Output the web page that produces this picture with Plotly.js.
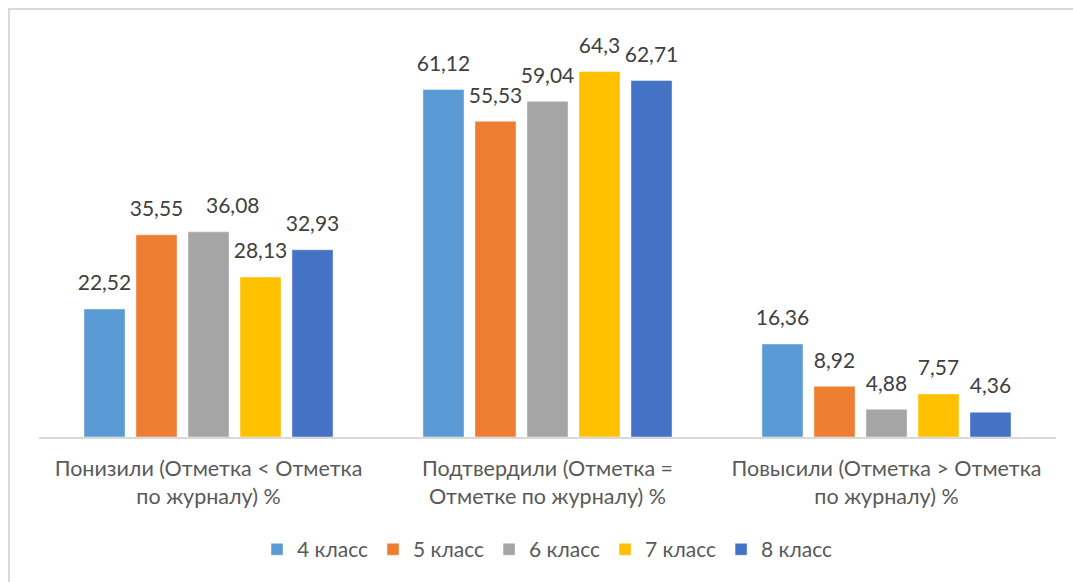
<!DOCTYPE html>
<html>
<head>
<meta charset="utf-8">
<script src="https://cdn.plot.ly/plotly-3.0.1.min.js"></script>
<style>html,body{margin:0;padding:0;background:#fff;}#chart{width:1073px;height:582px;}</style>
</head>
<body>
<div id="chart"></div>
<script>
const categories = ["Понизили (Отметка < Отметка<br>по журналу) %", "Подтвердили (Отметка =<br>Отметке по журналу) %", "Повысили (Отметка > Отметка<br>по журналу) %"];
const seriesNames = ["4 класс", "5 класс", "6 класс", "7 класс", "8 класс"];
const grade4 = [22.52, 61.12, 16.36];
const grade5 = [35.55, 55.53, 8.92];
const grade6 = [36.08, 59.04, 4.88];
const grade7 = [28.13, 64.3, 7.57];
const grade8 = [32.93, 62.71, 4.36];
const colors = ["#5B9BD5", "#ED7D31", "#A5A5A5", "#FFC000", "#4472C4"];

const allValues = [grade4, grade5, grade6, grade7, grade8];
const fmt = v => String(v).replace('.', ',');
const FONT = "Lato, 'Open Sans', sans-serif";
const LABEL_FONT = {family: FONT, size: 21, color: '#404040'};

const barTraces = allValues.map((vals, i) => ({
  type: 'bar',
  name: seriesNames[i],
  x: categories,
  y: vals,
  offsetgroup: String(i),
  marker: {color: colors[i], line: {color: 'rgba(255,255,255,0.6)', width: 0.75}},
  hoverinfo: 'x+y'
}));

// In the reference the label of 6 класс in the first group was dragged to the right;
// that one label is drawn as an annotation (6 класс is the middle bar of the group).
const isMoved = (i, j) => i === 2 && j === 0;

const labelTraces = allValues.map((vals, i) => ({
  type: 'scatter',
  mode: 'markers+text',
  name: seriesNames[i] + ' label',
  showlegend: false,
  x: categories,
  y: vals,
  offsetgroup: String(i),
  text: vals.map((v, j) => isMoved(i, j) ? '' : fmt(v)),
  textposition: 'top center',
  cliponaxis: false,
  marker: {size: 20, color: 'rgba(0,0,0,0)'},
  textfont: LABEL_FONT,
  hoverinfo: 'skip'
}));

const L = 39, R = 17, T = 39, B = 145;
const W = 1073, H = 582;
const pw = W - L - R, ph = H - T - B;

const layout = {
  width: W, height: H,
  margin: {l: L, r: R, t: T, b: B, pad: 0},
  paper_bgcolor: '#fff', plot_bgcolor: '#fff',
  barmode: 'group',
  scattermode: 'group',
  bargap: 0.233,
  scattergap: 0.233,
  bargroupgap: 0.21,
  font: {family: FONT, color: '#595959', size: 21},
  xaxis: {
    showline: true, linecolor: '#d9d9d9', linewidth: 2,
    ticks: '', showgrid: false, zeroline: false,
    tickfont: {family: FONT, size: 21.5, color: '#595959'},
    ticklabelstandoff: 11,
    fixedrange: true
  },
  yaxis: {range: [0, 70], visible: false, fixedrange: true},
  showlegend: true,
  legend: {
    orientation: 'h', x: 0.5, xanchor: 'center', y: -0.283, yanchor: 'middle',
    font: {family: FONT, size: 21, color: '#595959'},
    itemwidth: 30, traceorder: 'normal'
  },
  annotations: [{
    x: categories[0], y: grade6[0], xref: 'x', yref: 'y',
    text: fmt(grade6[0]), showarrow: false,
    xanchor: 'center', yanchor: 'bottom', xshift: 24, yshift: 13,
    font: LABEL_FONT
  }],
  shapes: [{
    type: 'rect', xref: 'paper', yref: 'paper',
    x0: (9 - L) / pw, x1: (W + 20 - L) / pw,
    y0: (H - T - 800) / ph, y1: (H - B - 9) / ph,
    line: {color: '#d9d9d9', width: 2}, fillcolor: 'rgba(0,0,0,0)', layer: 'below'
  }]
};

Plotly.newPlot('chart', barTraces.concat(labelTraces), layout, {displayModeBar: false, staticPlot: true});
</script>
</body>
</html>
